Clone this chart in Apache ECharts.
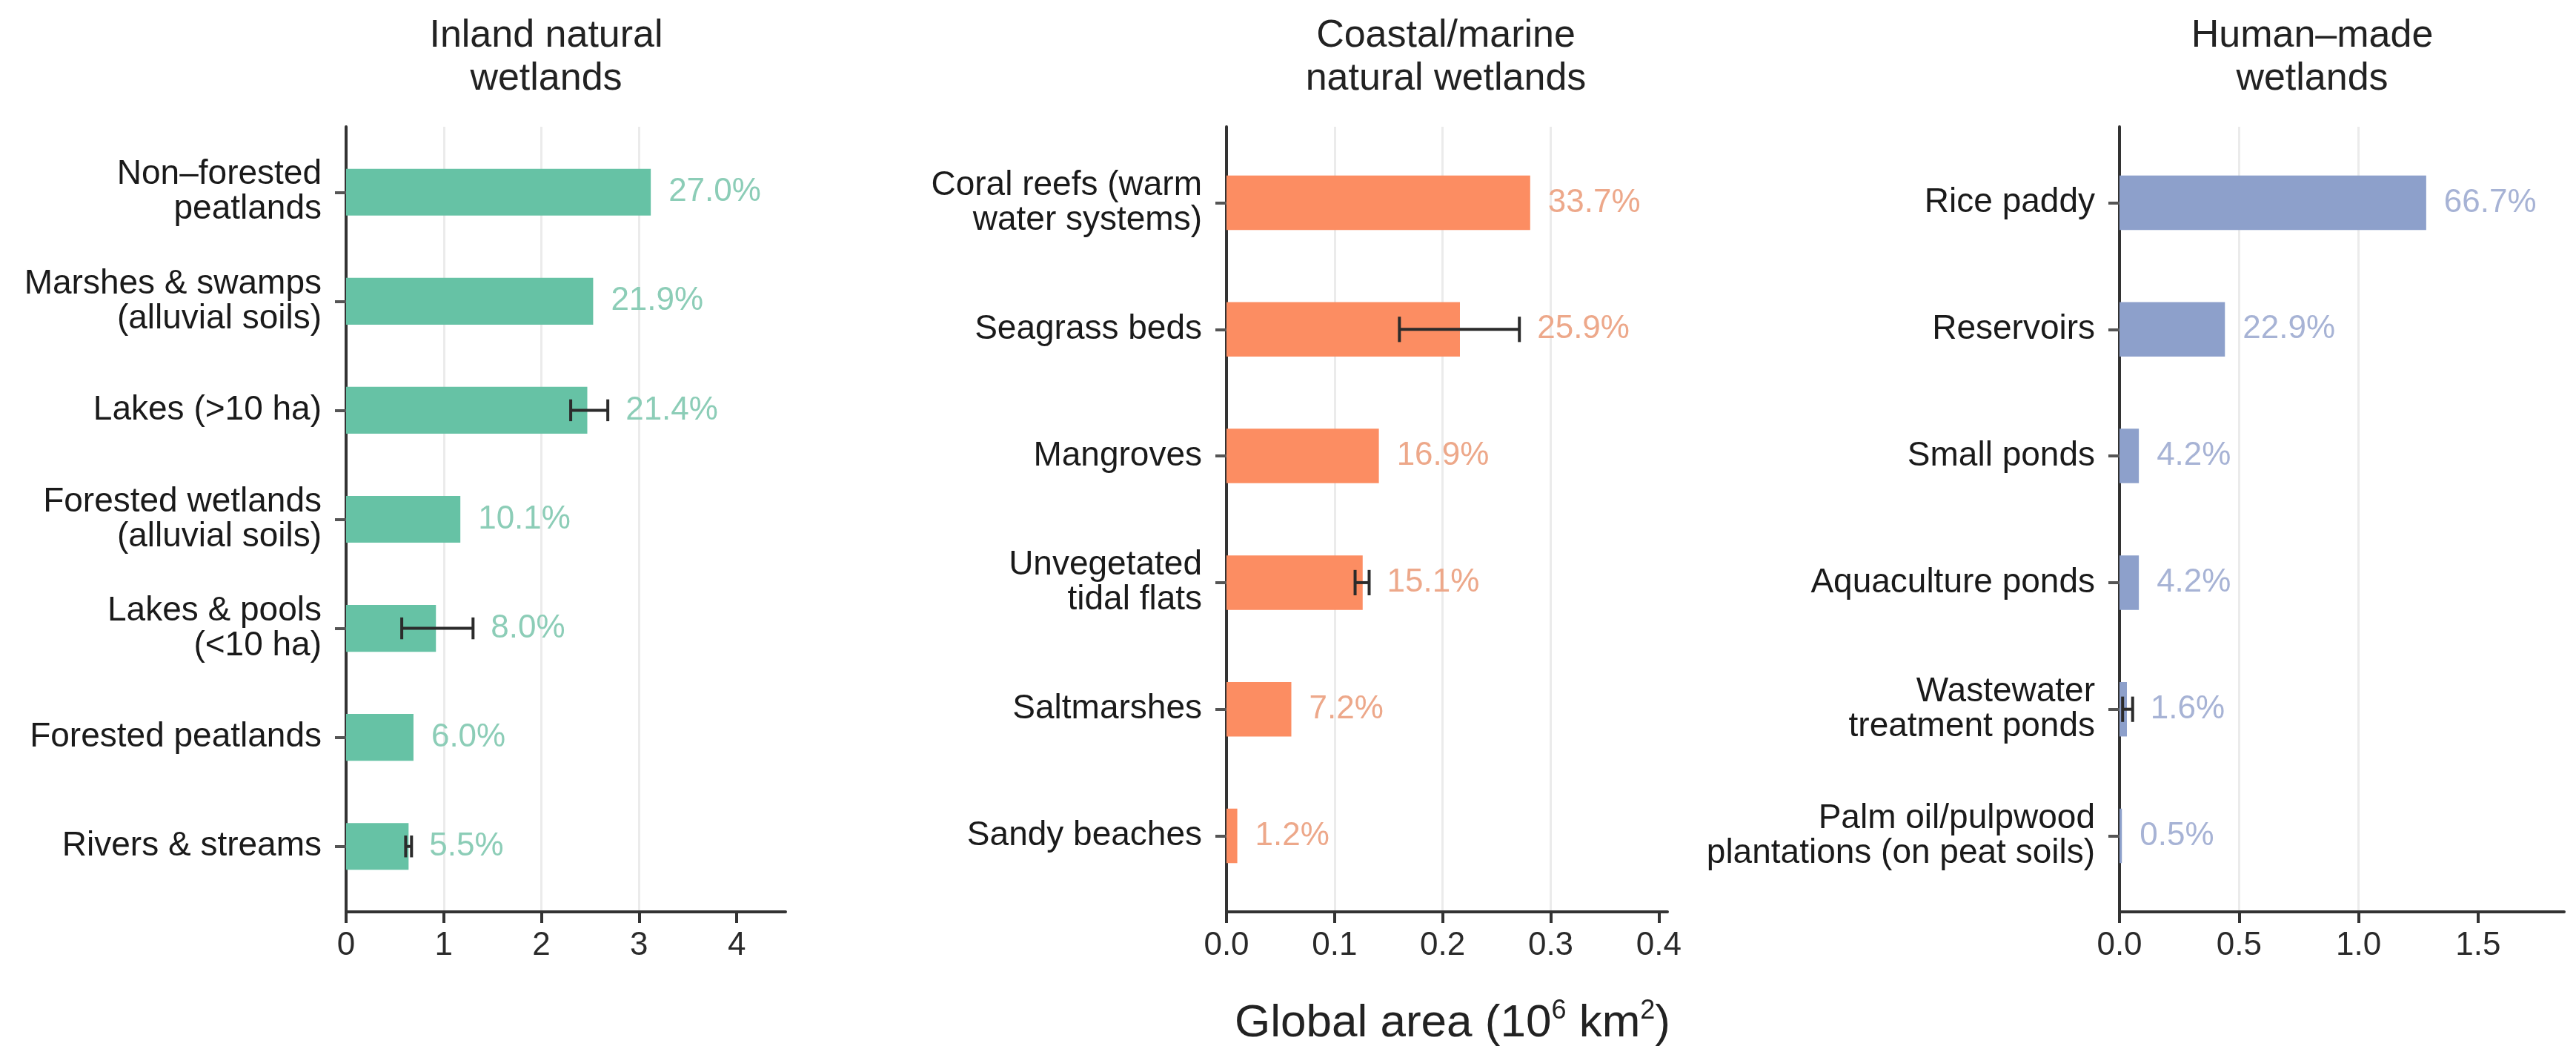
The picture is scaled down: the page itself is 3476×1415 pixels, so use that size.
<!DOCTYPE html>
<html lang="en" style="height: 100%">

<head>
  <meta charset="utf-8" />
  <script type="text/javascript" src="https://cdn.jsdelivr.net/npm/echarts@6.0.0/dist/echarts.min.js"></script>
</head>

<body style="height: 100%; margin: 0; background: #ffffff">
  <div id="container" style="width: 3476px; height: 1415px"></div>

  <script type="text/javascript">
    // Inland natural wetlands (global area, 10^6 km2)
    var inlandCats = [
      "Non\u2013forested\npeatlands",
      "Marshes & swamps\n(alluvial soils)",
      "Lakes (>10 ha)",
      "Forested wetlands\n(alluvial soils)",
      "Lakes & pools\n(<10 ha)",
      "Forested peatlands",
      "Rivers & streams"
    ];
    var inlandArea = [3.12, 2.53, 2.47, 1.17, 0.92, 0.69, 0.64];
    var inlandPct = ["27.0%", "21.9%", "21.4%", "10.1%", "8.0%", "6.0%", "5.5%"];
    var inlandErrLow = [null, null, 2.30, null, 0.57, null, 0.61];
    var inlandErrHigh = [null, null, 2.68, null, 1.30, null, 0.67];
    var inlandTicks = [0, 1, 2, 3, 4];

    // Coastal/marine natural wetlands
    var coastalCats = [
      "Coral reefs (warm\nwater systems)",
      "Seagrass beds",
      "Mangroves",
      "Unvegetated\ntidal flats",
      "Saltmarshes",
      "Sandy beaches"
    ];
    var coastalArea = [0.281, 0.216, 0.141, 0.126, 0.060, 0.010];
    var coastalPct = ["33.7%", "25.9%", "16.9%", "15.1%", "7.2%", "1.2%"];
    var coastalErrLow = [null, 0.160, null, 0.119, null, null];
    var coastalErrHigh = [null, 0.271, null, 0.132, null, null];
    var coastalTicks = [0, 0.1, 0.2, 0.3, 0.4];

    // Human-made wetlands
    var humanCats = [
      "Rice paddy",
      "Reservoirs",
      "Small ponds",
      "Aquaculture ponds",
      "Wastewater\ntreatment ponds",
      "Palm oil/pulpwood\nplantations (on peat soils)"
    ];
    var humanArea = [1.283, 0.441, 0.081, 0.081, 0.031, 0.010];
    var humanPct = ["66.7%", "22.9%", "4.2%", "4.2%", "1.6%", "0.5%"];
    var humanErrLow = [null, null, null, null, 0.013, null];
    var humanErrHigh = [null, null, null, null, 0.055, null];
    var humanTicks = [0, 0.5, 1.0, 1.5];

    var FONT = "Liberation Sans, Arial, Helvetica, sans-serif";
    var AXIS_COLOR = "#333333";
    var BAR_H = 0.43;
    var CAP_H = 0.2;

    var panels = [
      {
        title: "Inland natural\nwetlands", titleX: 737, cats: inlandCats, area: inlandArea, pct: inlandPct,
        lo: inlandErrLow, hi: inlandErrHigh, ticks: inlandTicks, max: 4.5, interval: 1, digits: 0,
        color: "#66c2a5", labelColor: "#8ccdb7", left: 467, width: 593
      },
      {
        title: "Coastal/marine\nnatural wetlands", titleX: 1951, cats: coastalCats, area: coastalArea, pct: coastalPct,
        lo: coastalErrLow, hi: coastalErrHigh, ticks: coastalTicks, max: 0.408, interval: 0.1, digits: 1,
        color: "#fc8d62", labelColor: "#eda88a", left: 1655, width: 595
      },
      {
        title: "Human\u2013made\nwetlands", titleX: 3120, cats: humanCats, area: humanArea, pct: humanPct,
        lo: humanErrLow, hi: humanErrHigh, ticks: humanTicks, max: 1.86, interval: 0.5, digits: 1,
        color: "#8da0cb", labelColor: "#a7b3d5", left: 2860, width: 600
      }
    ];

    var PLOT_TOP = 171;
    var PLOT_H = 1059;

    var grids = [], xAxes = [], yAxes = [], series = [], titles = [];

    panels.forEach(function (p, k) {
      var n = p.cats.length;
      var idx = p.cats.map(function (c, i) { return i; });

      grids.push({ left: p.left, top: PLOT_TOP, width: p.width, height: PLOT_H, outerBoundsMode: "none" });

      titles.push({
        text: p.title,
        left: p.titleX,
        top: 20,
        padding: 0,
        textAlign: "center",
        textStyle: { fontFamily: FONT, fontSize: 52, fontWeight: "normal", lineHeight: 58, color: "#222222" }
      });

      xAxes.push({
        gridIndex: k,
        type: "value",
        min: 0,
        max: p.max,
        interval: p.interval,
        axisLine: { show: true, onZero: false, lineStyle: { color: AXIS_COLOR, width: 4 } },
        axisTick: { show: true, length: 15, customValues: p.ticks, lineStyle: { color: AXIS_COLOR, width: 4 } },
        axisLabel: {
          customValues: p.ticks,
          margin: 24,
          fontFamily: FONT,
          fontSize: 44,
          color: "#2a2a2a",
          formatter: function (v) { return v.toFixed(p.digits); }
        },
        splitLine: { show: true, showMinLine: false, showMaxLine: false, lineStyle: { color: "#ebebeb", width: 3 } }
      });

      yAxes.push({
        gridIndex: k,
        type: "value",
        inverse: true,
        min: -0.6,
        max: n - 0.4,
        axisLine: { show: true, onZero: false, lineStyle: { color: AXIS_COLOR, width: 4 } },
        axisTick: { show: true, length: 15, customValues: idx, lineStyle: { color: "#555555", width: 4 } },
        axisLabel: {
          customValues: idx,
          margin: 33,
          fontFamily: FONT,
          fontSize: 46,
          lineHeight: 47,
          color: "#1a1a1a",
          align: "right",
          formatter: function (v) { return p.cats[Math.round(v)]; }
        },
        splitLine: { show: false }
      });

      // bars
      series.push({
        type: "custom",
        xAxisIndex: k,
        yAxisIndex: k,
        encode: { x: 0, y: 1 },
        data: p.area.map(function (v, i) { return [v, i]; }),
        renderItem: function (params, api) {
          var a = api.coord([0, api.value(1)]);
          var b = api.coord([api.value(0), api.value(1)]);
          var h = api.size([0, BAR_H])[1];
          return {
            type: "rect",
            shape: { x: a[0], y: a[1] - h / 2, width: b[0] - a[0], height: h },
            style: { fill: p.color }
          };
        }
      });

      // error bars
      var errData = [];
      p.lo.forEach(function (lo, i) {
        if (lo !== null) errData.push([lo, p.hi[i], i]);
      });
      series.push({
        type: "custom",
        xAxisIndex: k,
        yAxisIndex: k,
        encode: { x: [0, 1], y: 2 },
        data: errData,
        z: 3,
        renderItem: function (params, api) {
          var lo = api.coord([api.value(0), api.value(2)]);
          var hi = api.coord([api.value(1), api.value(2)]);
          var c = api.size([0, CAP_H])[1] / 2;
          var st = { stroke: "#2b2b2b", lineWidth: 4 };
          return {
            type: "group",
            children: [
              { type: "line", shape: { x1: lo[0], y1: lo[1], x2: hi[0], y2: hi[1] }, style: st },
              { type: "line", shape: { x1: lo[0], y1: lo[1] - c, x2: lo[0], y2: lo[1] + c }, style: st },
              { type: "line", shape: { x1: hi[0], y1: hi[1] - c, x2: hi[0], y2: hi[1] + c }, style: st }
            ]
          };
        }
      });

      // percentage labels, placed after the bar or its error bar
      series.push({
        type: "custom",
        xAxisIndex: k,
        yAxisIndex: k,
        encode: { x: 0, y: 1 },
        data: p.area.map(function (v, i) {
          return [p.hi[i] !== null ? Math.max(v, p.hi[i]) : v, i];
        }),
        z: 4,
        renderItem: function (params, api) {
          var pt = api.coord([api.value(0), api.value(1)]);
          return {
            type: "text",
            x: pt[0] + 24,
            y: pt[1],
            style: {
              text: p.pct[params.dataIndex],
              fill: p.labelColor,
              fontFamily: FONT,
              fontSize: 44,
              align: "left",
              verticalAlign: "middle"
            }
          };
        }
      });
    });

    // shared x-axis name
    titles.push({
      text: "{a|Global area (10}{s|6}{a| km}{s|2}{a|)}",
      left: 1960,
      top: 1346,
      padding: 0,
      textAlign: "center",
      textStyle: {
        fontWeight: "normal",
        rich: {
          a: { fontFamily: FONT, fontSize: 62, fontWeight: "normal", color: "#222222", lineHeight: 70 },
          s: { fontFamily: FONT, fontSize: 36, fontWeight: "normal", color: "#222222", verticalAlign: "top", lineHeight: 70 }
        }
      }
    });

    var dom = document.getElementById("container");
    var myChart = echarts.init(dom, null, { renderer: "canvas" });
    var option = {
      backgroundColor: "#ffffff",
      animation: false,
      title: titles,
      grid: grids,
      xAxis: xAxes,
      yAxis: yAxes,
      series: series
    };
    myChart.setOption(option);
  </script>
</body>

</html>
